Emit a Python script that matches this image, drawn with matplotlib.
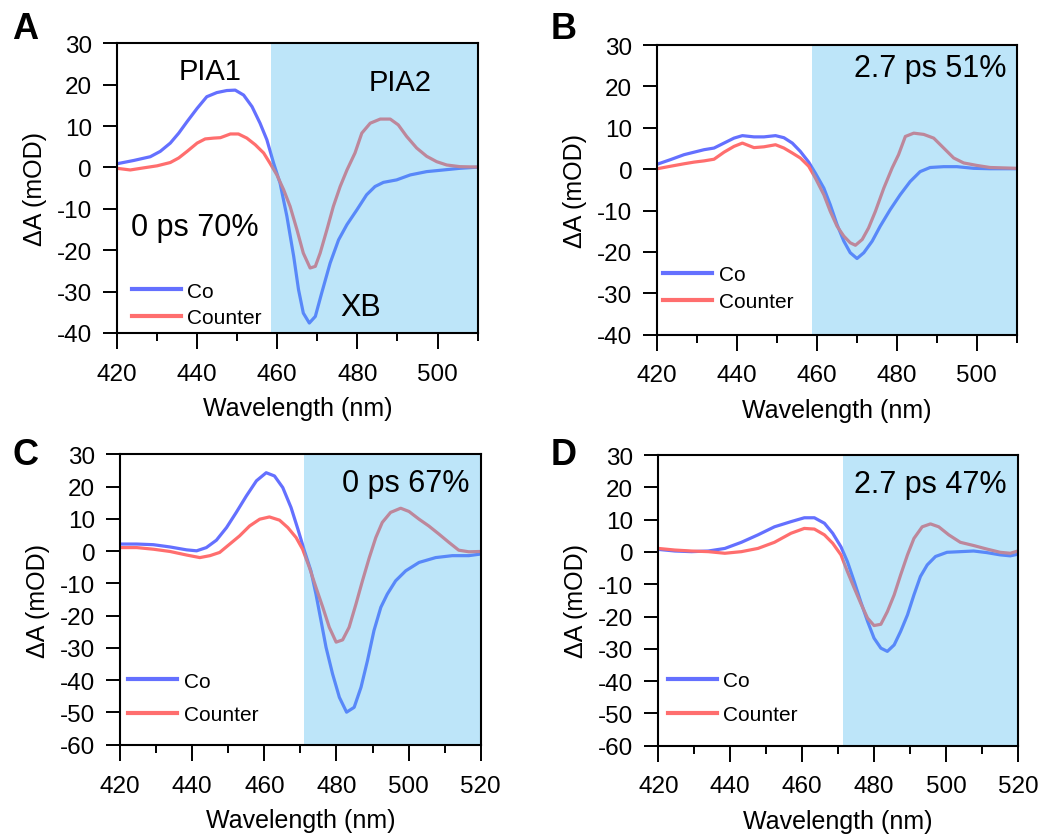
import numpy as np
import matplotlib
matplotlib.use("Agg")
import matplotlib.pyplot as plt
from matplotlib.ticker import MultipleLocator

plt.rcParams['font.family'] = ['Liberation Sans', 'DejaVu Sans']
plt.rcParams['axes.unicode_minus'] = False

# ---- data (wavelength in nm, dA in mOD) ----
# Panel A, 0 ps
a_wl_co = [420, 424.2, 428.3, 430.8, 433.3, 435.4, 437.5, 440, 442.4, 444.9, 447.4, 449.5, 451.6,
           453.7, 455.7, 457.4, 459.1, 460.7, 462.4, 464.1, 465.3, 466.5, 468, 469.5, 471.1, 473.2,
           475.3, 477.4, 479.9, 482.3, 484.4, 486.5, 489.8, 493.2, 497.3, 501.5, 505.6, 510.3]
a_co = [0.9, 1.7, 2.6, 3.9, 5.9, 8.3, 11.1, 14.3, 17.1, 18.1, 18.6, 18.7, 17.5,
        14.7, 10.7, 6.7, 1, -3.8, -11.8, -21.5, -29.5, -35.2, -37.6, -36, -30.3, -23.1,
        -17.5, -13.8, -10.2, -6.6, -4.6, -3.6, -3, -1.8, -1, -0.6, -0.2, 0.1]
a_wl_ct = [420, 423.3, 426.6, 430, 433.3, 435.4, 437.5, 440, 442, 444.1, 445.8, 448.3, 450.3,
           452.4, 454.5, 456.6, 458.2, 459.9, 461.6, 463.2, 464.9, 466.5, 468.2, 469.5, 470.7,
           472.4, 474, 475.7, 477.4, 479.4, 481.1, 483.2, 485.7, 488.2, 490.2, 492.3, 494.8,
           497.3, 499.8, 502.3, 505.6, 510.3]
a_ct = [-0.2, -0.6, -0.1, 0.4, 1.2, 2.3, 3.9, 5.9, 6.9, 7.1, 7.2, 8.1, 8.1,
        7.1, 5.5, 3.5, 1, -1.8, -5.4, -9.4, -15, -20.7, -24.3, -23.9, -20.7,
        -15, -9.4, -4.6, -0.6, 3.5, 8.3, 10.7, 11.7, 11.7, 10.3, 7.5, 4.7,
        2.7, 1.4, 0.6, 0.2, 0.1]

# Panel B, 2.7 ps
b_wl = [420, 423.3, 426.7, 429.2, 431.7, 434.2, 436.7, 439.2, 441.3, 444.2, 446.7, 449.6, 451.7,
        453.8, 455.8, 457.9, 459.6, 461.7, 463.3, 465, 466.7, 468.3, 470, 471.7, 473.8, 475.8,
        478.3, 480.8, 483.3, 485.8, 488.3, 491.7, 495, 499.2, 503.3, 510.2]
b_co = [1.2, 2.3, 3.5, 4.1, 4.7, 5.1, 6.3, 7.5, 8.1, 7.8, 7.8, 8.1, 7.6,
        6.3, 4.3, 1.7, -1, -4.6, -8.6, -13.4, -17.4, -20.2, -21.6, -20.2, -17.4, -13.8,
        -9.8, -6.2, -3, -0.6, 0.4, 0.6, 0.6, 0.2, 0.1, 0.1]
b_wl_ct = [420, 423.3, 426.7, 429.2, 431.7, 434.2, 436.7, 439.2, 441.3, 444.2, 446.7, 449.6,
           451.7, 453.8, 455.8, 457.9, 459.6, 461.7, 463.3, 465, 466.7, 468.3, 469.6, 471.3,
           472.9, 474.6, 476.7, 478.8, 480.4, 482.1, 484.2, 486.7, 489.2, 491.7, 494.2, 496.7,
           500, 503.3, 510.2]
b_ct = [0.1, 0.7, 1.3, 1.7, 2, 2.4, 4.1, 5.5, 6.3, 5.2, 5.4, 5.9,
        5.1, 3.9, 2.7, 0.7, -2.2, -6.2, -10.2, -13.8, -16.2, -17.8, -18.4, -17,
        -14.2, -10.2, -4.6, 0.3, 3.5, 7.9, 8.7, 8.4, 7.5, 5.1, 2.7, 1.5,
        0.9, 0.4, 0.2]

# Panel C, 0 ps
c_wl = [420, 424.6, 429.2, 433.8, 438.4, 441.2, 443.9, 446.7, 449.5, 452.2, 455, 457.8, 460.5,
        462.8, 465.1, 467.4, 469.3, 471.1, 472.9, 474.3, 475.7, 477.1, 478.9, 480.8, 482.8,
        484.9, 486.8, 488.6, 490.4, 492.3, 494.1, 496.4, 499.2, 502.9, 507.5, 512.1, 516.7, 520]
c_co = [2.2, 2.2, 2, 1.3, 0.4, 0.1, 1.1, 3.4, 7.3, 12, 17.1, 21.8, 24.3,
        23.3, 19.7, 13.5, 6.8, 0.1, -6.1, -13.3, -21.5, -29.8, -38, -45.3, -49.9,
        -48.4, -42.2, -33.9, -24.6, -17.4, -13.3, -9.2, -6.1, -3.5, -2, -1.4, -1.4, -0.9]
c_wl_ct = [420, 424.6, 429.2, 433.8, 438.4, 442.1, 444.9, 447.6, 450.4, 453.1, 455.9, 458.7,
           461.4, 464.2, 466.5, 468.8, 470.6, 472.5, 474.3, 476.2, 478, 479.9, 481.7, 483.5,
           485.4, 487.2, 489.1, 490.9, 492.7, 495, 497.8, 500.1, 502.9, 505.6, 508.4, 511.2,
           513.9, 516.7, 520]
c_ct = [1.1, 1.1, 0.6, -0.1, -1.2, -2, -1.4, -0.4, 2.2, 4.7, 7.8, 9.9,
        10.6, 9.6, 7.3, 4.2, 0.6, -5.1, -11.2, -17.4, -23.6, -28.2, -27.5, -23.6,
        -16.4, -9.2, -2, 4.2, 8.9, 12, 13.3, 12.3, 9.9, 7.8, 5.3, 2.7,
        0.3, -0.2, -0.1]

# Panel D, 2.7 ps
d_wl = [420, 424.6, 429.2, 433.9, 438.5, 443.1, 447.7, 452.3, 456.9, 460.6, 463.4, 466.2, 468.5,
        470.8, 472.6, 474.5, 476.3, 478.2, 480, 481.9, 483.7, 485.6, 487.4, 489.3, 491.1, 492.9,
        494.8, 497.1, 500.3, 504, 507.7, 511.4, 515.1, 517.9, 520]
d_co = [0.8, 0.3, 0.1, 0.3, 1.1, 3, 5.3, 7.8, 9.4, 10.6, 10.6, 8.9, 5.8,
        1.6, -3, -9.2, -15.4, -21.5, -26.7, -29.8, -30.8, -28.8, -24.6, -19.5, -13.3, -7.6,
        -4, -1.4, -0.1, 0.1, 0.3, -0.2, -0.9, -1.2, -0.7]
d_wl_ct = [420, 424.6, 429.2, 433.9, 438.5, 443.1, 447.7, 452.3, 456.9, 460.6, 463.4, 466.2,
           468.5, 470.8, 472.6, 474.5, 476.3, 478.2, 480, 481.9, 483.7, 485.6, 487.4, 489.3,
           491.1, 493.4, 495.7, 498, 500.8, 504, 507.7, 511.4, 515.1, 517.9, 520]
d_ct = [1.1, 0.6, 0.3, 0.1, -0.4, 0.1, 1.1, 3, 5.8, 7.3, 7.1, 5.3,
        2.7, -0.9, -6.1, -11.2, -15.9, -20.5, -22.8, -22.4, -18.5, -13.3, -7.1, -0.9,
        4.2, 7.8, 8.7, 7.8, 5.3, 3, 2, 0.9, -0.1, -0.4, 0.3]

panel_letters = ['A', 'B', 'C', 'D']
panel_labels = ['0 ps 70%', '2.7 ps 51%', '0 ps 67%', '2.7 ps 47%']
shade_start = [458.5, 458.8, 471.0, 471.3]
x_max = [510, 510, 520, 520]
y_min = [-40, -40, -60, -60]

co_color = '#6470FF'
ct_color = '#FF6E6E'
shade_color = '#43B7F0'

fig = plt.figure(figsize=(10.45, 8.37), dpi=100)
rects = [[0.112, 0.601, 0.345, 0.346],
         [0.629, 0.599, 0.344, 0.346],
         [0.115, 0.109, 0.345, 0.347],
         [0.630, 0.108, 0.344, 0.347]]
series = [(a_wl_co, a_co, a_wl_ct, a_ct),
          (b_wl, b_co, b_wl_ct, b_ct),
          (c_wl, c_co, c_wl_ct, c_ct),
          (d_wl, d_co, d_wl_ct, d_ct)]
# legend anchor (upper left of the "Co" row) and row spacing for each panel
leg_anchor = [(0.042, 0.177), (0.017, 0.239), (0.023, 0.252), (0.026, 0.256)]
leg_spacing = [0.36, 0.36, 0.7, 0.7]

for i, rect in enumerate(rects):
    ax = fig.add_axes(rect)
    wl1, co, wl2, ct = series[i]
    ax.plot(wl1, co, color=co_color, lw=2.3, label='Co', zorder=2, solid_joinstyle='round')
    ax.plot(wl2, ct, color=ct_color, lw=2.3, label='Counter', zorder=2, solid_joinstyle='round')
    ax.axvspan(shade_start[i], x_max[i], color=shade_color, alpha=0.35, lw=0, zorder=3)

    ax.set_xlim(420, x_max[i])
    ax.set_ylim(y_min[i], 30)
    ax.xaxis.set_major_locator(MultipleLocator(20))
    ax.xaxis.set_minor_locator(MultipleLocator(10))
    ax.yaxis.set_major_locator(MultipleLocator(10))
    ax.tick_params(axis='x', which='major', direction='out', length=11.5, width=1.4,
                   labelsize=17.5, pad=10)
    ax.tick_params(axis='x', which='minor', direction='out', length=5.8, width=1.4)
    ax.tick_params(axis='y', which='major', direction='out', length=10, width=1.4,
                   labelsize=17.5, pad=8)
    for s in ax.spines.values():
        s.set_linewidth(1.5)
        s.set_zorder(5)
    ax.set_xlabel('Wavelength (nm)', fontsize=18, labelpad=8)
    ax.set_ylabel('ΔA (mOD)', fontsize=18, labelpad=7)

    leg = ax.legend(loc='upper left', bbox_to_anchor=leg_anchor[i], frameon=False, fontsize=15,
                    handlelength=2.35, handletextpad=0.3, labelspacing=leg_spacing[i],
                    borderpad=0.0, borderaxespad=0.0)
    for h in leg.get_lines():
        h.set_linewidth(3)

    if i == 0:
        ax.text(0.04, 0.365, panel_labels[i], transform=ax.transAxes, fontsize=22,
                ha='left', va='center')
        ax.text(0.258, 0.905, 'PIA1', transform=ax.transAxes, fontsize=21, ha='center', va='center')
        ax.text(0.785, 0.865, 'PIA2', transform=ax.transAxes, fontsize=21, ha='center', va='center')
        ax.text(0.676, 0.09, 'XB', transform=ax.transAxes, fontsize=22, ha='center', va='center')
    else:
        ax.text(0.97, 0.92 if i == 1 else 0.9, panel_labels[i], transform=ax.transAxes,
                fontsize=22, ha='right', va='center', zorder=6)

letter_pos = [(0.012, 0.965), (0.527, 0.965), (0.012, 0.456), (0.527, 0.456)]
for (x, y), letter in zip(letter_pos, panel_letters):
    fig.text(x, y, letter, fontsize=26, fontweight='bold', ha='left', va='center')

fig.savefig('out.png', dpi=100)
